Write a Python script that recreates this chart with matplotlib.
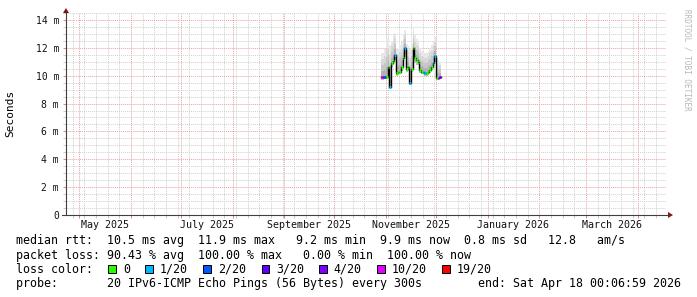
import matplotlib
matplotlib.use("Agg")
import numpy as np
import pandas as pd
import matplotlib.pyplot as plt
import matplotlib.dates as mdates
from matplotlib.ticker import MultipleLocator, FuncFormatter, NullFormatter
from matplotlib.patches import Rectangle, Polygon
from matplotlib.lines import Line2D

# Smokeping style RTT graph, last 360 days, drawn to look like rrdtool output.

W, H = 697, 297
MONO = "DejaVu Sans Mono"

start = pd.Timestamp("2025-04-23 00:06:59")
end = pd.Timestamp("2026-04-18 00:06:59")
first_day = "2025-10-29"

# daily median rtt (ms), smoke range (ms) and lost pings out of 20
median_ms = [9.93, 9.93, 9.93, 9.93, 10.65, 9.21, 10.89, 11.06, 11.49, 10.17,
             10.29, 10.29, 10.6, 11.25, 11.96, 10.5, 10.6, 9.45, 10.5, 11.96,
             11.25, 11.1, 11.0, 10.4, 10.3, 10.3, 10.2, 10.2, 10.3, 10.4,
             10.6, 10.9, 11.4, 9.86, 9.86, 9.93]
smoke_lo = [9.7, 9.7, 9.75, 9.8, 10.3, 9.1, 10.6, 10.8, 11.1, 9.95,
            10.1, 10.1, 10.35, 10.9, 11.5, 10.3, 10.4, 9.3, 10.3, 11.5,
            10.9, 10.8, 10.75, 10.2, 10.1, 10.1, 10.0, 10.0, 10.1, 10.2,
            10.4, 10.6, 11.0, 9.7, 9.7, 9.75]
smoke_hi = [11.6, 11.6, 11.9, 12.7, 12.4, 12.2, 12.5, 12.9, 13.1, 12.0,
            11.9, 12.2, 12.4, 13.0, 13.3, 12.3, 12.1, 11.9, 12.3, 13.4,
            12.9, 12.6, 12.4, 12.0, 11.8, 11.7, 11.6, 11.6, 11.8, 12.0,
            12.2, 12.5, 12.8, 11.3, 11.1, 11.0]
loss = [10, 4, 2, 0, 0, 1, 0, 0, 1, 0,
        0, 0, 0, 0, 1, 0, 0, 1, 0, 0,
        0, 0, 0, 0, 0, 1, 1, 0, 0, 0,
        0, 1, 1, 0, 10, 4]

loss_levels = [0, 1, 2, 3, 4, 10, 19]
loss_labels = ["0", "1/20", "2/20", "3/20", "4/20", "10/20", "19/20"]
loss_colors = ["#26ff00", "#00b8ff", "#0059ff", "#5e00ff", "#7e00ff", "#dd00ff", "#ff0000"]

month_labels = ["2025-05", "2025-07", "2025-09", "2025-11", "2026-01", "2026-03"]

legend_lines = [
    "median rtt:  10.5 ms avg  11.9 ms max   9.2 ms min  9.9 ms now  0.8 ms sd   12.8   am/s",
    "packet loss: 90.43 % avg  100.00 % max   0.00 % min  100.00 % now",
    "loss color:",
    "probe:       20 IPv6-ICMP Echo Pings (56 Bytes) every 300s",
]
end_text = "end: Sat Apr 18 00:06:59 2026"


def px(x, y):
    return x / W, 1 - y / H


def main():
    fig = plt.figure(figsize=(W / 100, H / 100), dpi=100, facecolor="white")
    ax = fig.add_axes([66 / W, (H - 215) / H, 600 / W, 202 / H])
    ax.set_facecolor("white")

    days = pd.date_range(first_day, periods=len(median_ms), freq="D")
    edges = days.append(pd.DatetimeIndex([days[-1] + pd.Timedelta(days=1)]))
    xs = mdates.date2num(edges.to_pydatetime())

    med = np.array(median_ms)
    lo = np.array(smoke_lo)
    hi = np.array(smoke_hi)

    def ext(a):
        return np.append(a, a[-1])

    # smoke: lighter the further above the median
    shades = ["#b2b2b2", "#c6c6c6", "#d8d8d8", "#e8e8e8"]
    for i, c in enumerate(shades):
        b = med + (hi - med) * i / len(shades)
        t = med + (hi - med) * (i + 1) / len(shades)
        ax.fill_between(xs, ext(b), ext(t), step="post", color=c, lw=0, zorder=2)
    ax.fill_between(xs, ext(lo), ext(med), step="post", color="#c0c0c0", lw=0, zorder=2)

    ax.step(xs, ext(med), where="post", color="black", lw=1.0, zorder=3)
    for i in range(len(med)):
        k = max(j for j, lv in enumerate(loss_levels) if lv <= loss[i])
        ax.hlines(med[i], xs[i], xs[i + 1], color=loss_colors[k], lw=2.2, zorder=4)

    ax.set_xlim(mdates.date2num(start.to_pydatetime()), mdates.date2num(end.to_pydatetime()))
    ax.set_ylim(0, 14.5)

    ax.xaxis.set_major_locator(mdates.MonthLocator())
    ax.xaxis.set_minor_locator(mdates.WeekdayLocator(byweekday=mdates.SU))
    ax.xaxis.set_major_formatter(NullFormatter())
    ax.yaxis.set_major_locator(MultipleLocator(2))
    ax.yaxis.set_minor_locator(MultipleLocator(0.5))
    ax.yaxis.set_major_formatter(FuncFormatter(lambda v, p: "0" if v == 0 else f"{v:.0f} m"))

    ax.grid(which="minor", color="#cfcfcf", linestyle=(0, (1, 1)), lw=0.7)
    ax.grid(which="major", color="#eea0a0", linestyle=(0, (1, 1)), lw=0.7)
    ax.set_axisbelow(True)

    ax.tick_params(which="major", length=2, width=0.7, color="#e08080", direction="out")
    ax.tick_params(which="minor", length=2, width=0.7, color="#c8c8c8", direction="out")
    ax.tick_params(axis="y", labelsize=7, pad=3, labelcolor="#111111")
    for lab in ax.get_yticklabels():
        lab.set_family(MONO)
    for s in ax.spines.values():
        s.set_visible(False)

    for m in month_labels:
        s = pd.Timestamp(m + "-01")
        e = s + pd.offsets.MonthBegin(1)
        c = s + (e - s) / 2
        ax.annotate(s.strftime("%B %Y"), xy=(mdates.date2num(c.to_pydatetime()), 0),
                    xycoords=("data", "axes fraction"), xytext=(0, -13 * 0.72),
                    textcoords="offset points", ha="center", va="baseline",
                    fontsize=7.2, family=MONO, color="#111111", annotation_clip=False)

    # axis lines with arrows
    fig.add_artist(Line2D(*zip(px(66, 215), px(66, 12)), color="#404040", lw=0.8))
    fig.add_artist(Line2D(*zip(px(62, 215), px(669, 215)), color="#404040", lw=0.8))
    fig.add_artist(Polygon([px(63, 13), px(69, 13), px(66, 8)], closed=True,
                           transform=fig.transFigure, color="#8b1010", lw=0))
    fig.add_artist(Polygon([px(668, 212), px(668, 218), px(673, 215)], closed=True,
                           transform=fig.transFigure, color="#8b1010", lw=0))

    fig.text(*px(10.7, 113.5), "Seconds", rotation=90, ha="center", va="center",
             fontsize=8, family=MONO)
    fig.text(*px(686.5, 60), "RRDTOOL / TOBI OETIKER", rotation=270, ha="center",
             va="center", fontsize=5.5, family=MONO, color="#b8b8b8")

    baselines = [244, 258.5, 273, 287.5]
    for txt, yb in zip(legend_lines, baselines):
        fig.text(*px(16, yb), txt, ha="left", va="baseline", fontsize=8.35, family=MONO)
    fig.text(*px(478, 287.5), end_text, ha="left", va="baseline", fontsize=8.35, family=MONO)

    sq_x = [108.3, 145, 203.3, 261.7, 319.3, 377.3, 442.3]
    for x0, lab, col in zip(sq_x, loss_labels, loss_colors):
        fig.add_artist(Rectangle(px(x0, 273), 7.7 / W, 7.7 / H, transform=fig.transFigure,
                                 facecolor=col, edgecolor="black", lw=0.7))
        fig.text(*px(x0 + 14.5, 273), lab, ha="left", va="baseline", fontsize=8.35, family=MONO)

    fig.savefig("out.png", dpi=100, facecolor="white")


if __name__ == "__main__":
    main()
